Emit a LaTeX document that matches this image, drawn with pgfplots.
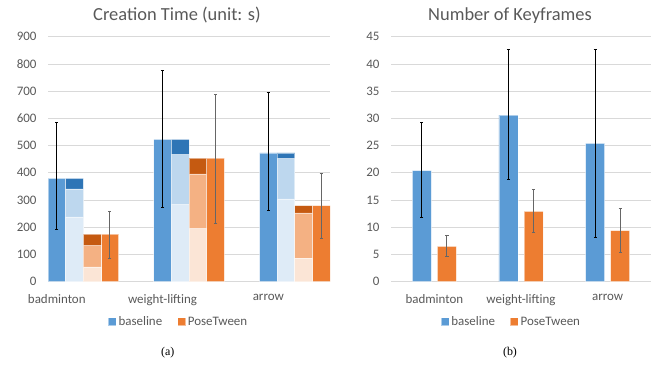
\documentclass[border=0pt]{standalone}
\usepackage{fontspec}
\setmainfont{Carlito}
\newfontfamily\capfont{Liberation Serif}
\usepackage{pgfplots}
\pgfplotsset{compat=1.18}
\definecolor{txt}{HTML}{595959}
\definecolor{grd}{HTML}{D9D9D9}
\definecolor{bl}{HTML}{5B9BD5}
\definecolor{bldk}{HTML}{2E75B6}
\definecolor{bllt}{HTML}{BDD7EE}
\definecolor{blpl}{HTML}{DEEBF7}
\definecolor{orr}{HTML}{ED7D31}
\definecolor{ordk}{HTML}{C55A11}
\definecolor{orlt}{HTML}{F4B183}
\definecolor{orpl}{HTML}{FBE5D6}
\pgfplotsset{
 excel/.style={
  scale only axis, axis line style={draw=none}, major tick length=0pt,
  ymajorgrids, grid style={grd, line width=0.75bp},
  ymin=0,
  tick label style={font=\fontsize{13}{15}\selectfont, text=txt},
  yticklabel style={xshift=-8bp},
  xticklabel style={yshift=-9bp},
  /pgf/number format/assume math mode=true,
  title style={font=\fontsize{18.5}{22}\selectfont, text=txt, anchor=center},
  legend style={draw=none, fill=none, legend columns=2,
    font=\fontsize{13}{15}\selectfont, text=txt, anchor=center,
    /tikz/every even column/.append style={column sep=13bp}},
  ybar, bar shift=0pt,
  every axis plot/.append style={draw=white, draw opacity=0.5, line width=0.6bp},
 },
 eb/.style={error bars/.cd, y dir=both, y explicit,
   error bar style={line width=1bp, #1, draw opacity=1},
   error mark options={rotate=90, mark size=1.6bp, line width=1bp, #1, draw opacity=1}},
}
\begin{document}
\begin{tikzpicture}
\useasboundingbox (0,0) rectangle (659bp,365bp);
% ---------------- (a) Creation time ----------------
\begin{axis}[excel,
  at={(48bp,83.3bp)}, anchor=south west,
  width=282bp, height=245bp,
  xmin=-0.5, xmax=15.5, ymax=900, ytick={0,100,...,900},
  xtick={0,6,12}, xticklabels={badminton,weight-lifting,arrow},
  bar width=1,
  title={Creation Time (unit: s)},
  title style={at={(rel axis cs:0.5,1)}, xshift=-12bp, yshift=15.4bp},
  legend style={at={(rel axis cs:0.463,-0.163)}},
  legend image code/.code={\fill[#1] (0bp,-4bp) rectangle (8bp,4bp);},
]
\addplot[fill=bl, eb=black] coordinates {
  (0,380) += (0,205) -= (0,187)
  (6,523) += (0,252) -= (0,250)
  (12,473) += (0,223) -= (0,212)};
\addlegendentry{baseline}
\addplot[fill=orr, eb=black!60] coordinates {
  (3,175) += (0,83) -= (0,89)
  (9,454) += (0,234) -= (0,240)
  (15,279) += (0,119) -= (0,121)};
\addlegendentry{PoseTween}
% baseline breakdown (cumulative tops)
\addplot[fill=bldk, forget plot] coordinates {(1,380) (7,523) (13,473)};
\addplot[fill=bllt, forget plot] coordinates {(1,341) (7,468) (13,453)};
\addplot[fill=blpl, forget plot] coordinates {(1,238) (7,284) (13,304)};
% PoseTween breakdown (cumulative tops)
\addplot[fill=ordk, forget plot] coordinates {(2,175) (8,454) (14,279)};
\addplot[fill=orlt, forget plot] coordinates {(2,133) (8,396) (14,253)};
\addplot[fill=orpl, forget plot] coordinates {(2,54) (8,196) (14,87)};
\end{axis}
% ---------------- (b) Number of keyframes ----------------
\begin{axis}[excel,
  at={(391bp,83.3bp)}, anchor=south west,
  width=260bp, height=245bp,
  xmin=-0.5, xmax=2.5, ymax=45, ytick={0,5,...,45},
  xtick={0,1,2}, xticklabels={badminton,weight-lifting,arrow},
  bar width=0.219,
  title={Number of Keyframes},
  title style={at={(rel axis cs:0.5,1)}, xshift=-11bp, yshift=15.4bp},
  legend style={at={(rel axis cs:0.463,-0.163)}},
  legend image code/.code={\fill[#1] (0bp,-4bp) rectangle (8bp,4bp);},
]
\addplot[fill=bl, bar shift=-0.145, eb=black] coordinates {
  (0,20.4) += (0,8.8) -= (0,8.6)
  (1,30.6) += (0,12.0) -= (0,11.9)
  (2,25.4) += (0,17.3) -= (0,17.2)};
\addlegendentry{baseline}
\addplot[fill=orr, bar shift=0.145, eb=black!60] coordinates {
  (0,6.5) += (0,1.96) -= (0,1.9)
  (1,12.9) += (0,4.0) -= (0,3.9)
  (2,9.4) += (0,4.0) -= (0,4.0)};
\addlegendentry{PoseTween}
\end{axis}
\node[font=\capfont\fontsize{12}{14}\selectfont] at (167.7bp,12.3bp) {(a)};
\node[font=\capfont\fontsize{12}{14}\selectfont] at (510bp,12.3bp) {(b)};
\end{tikzpicture}
\end{document}
